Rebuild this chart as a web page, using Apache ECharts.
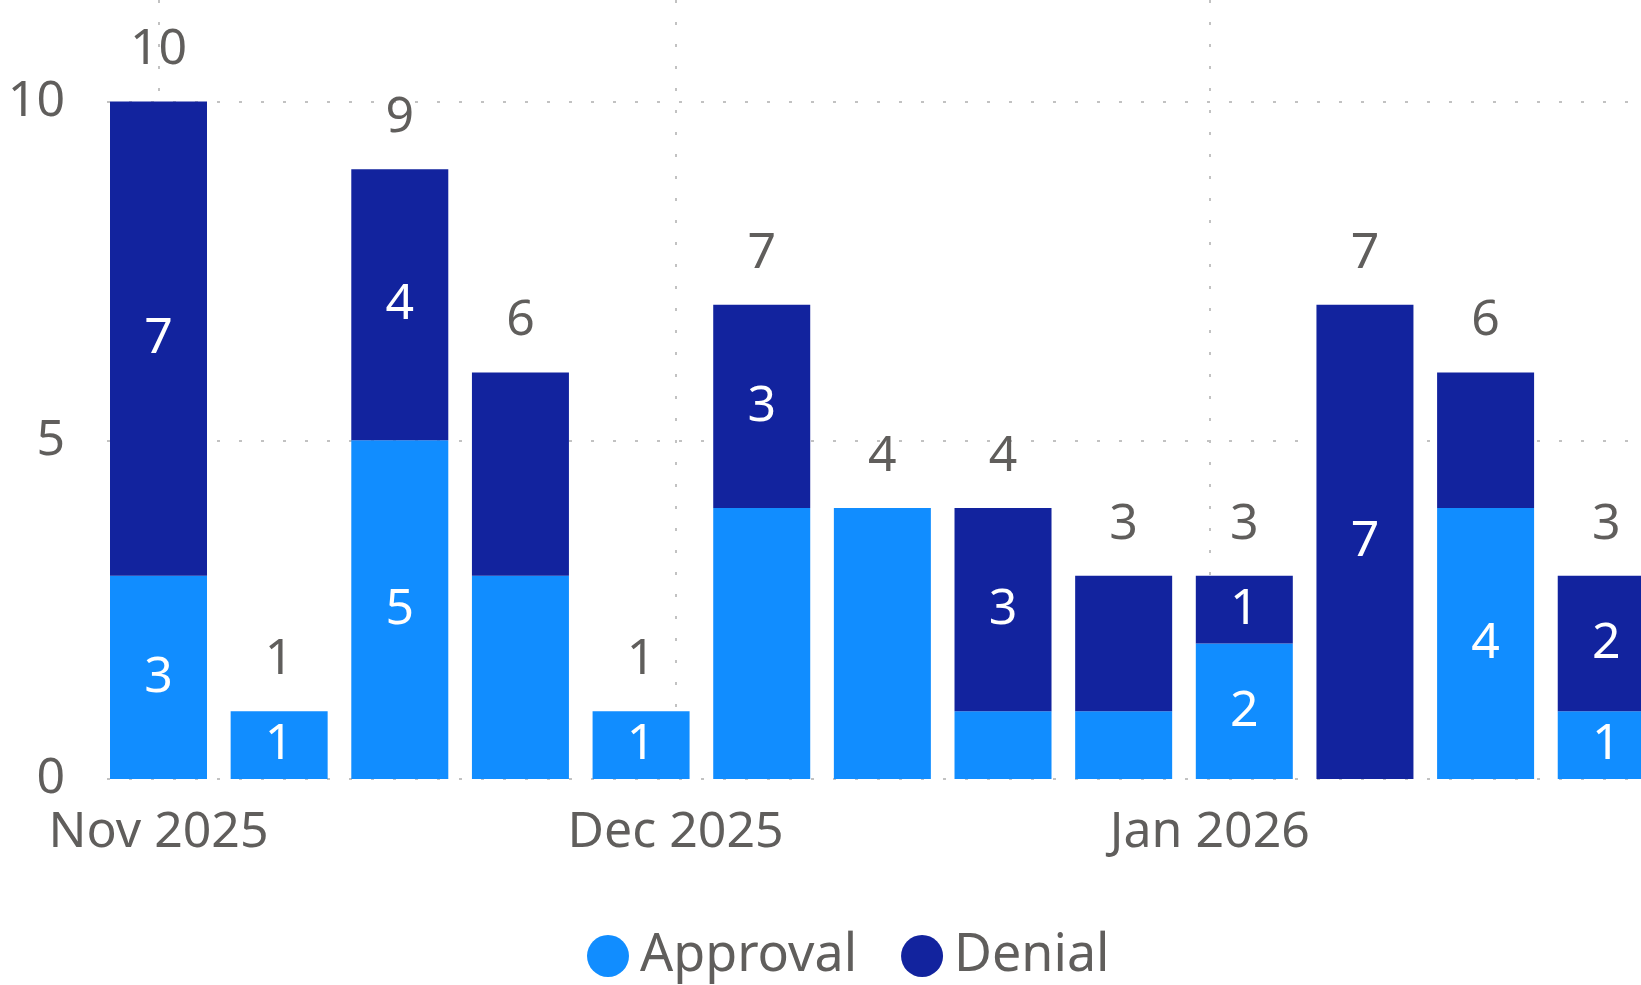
<!DOCTYPE html>
<html>
<head>
<meta charset="utf-8">
<script src="https://cdn.jsdelivr.net/npm/echarts@6/dist/echarts.min.js"></script>
<style>
  html, body { margin: 0; padding: 0; background: #fff; }
  #chart { width: 1641px; height: 985px; }
</style>
</head>
<body>
<div id="chart"></div>
<script>
// weekly buckets
const weeks = ['2025-11-01', '2025-11-08', '2025-11-15', '2025-11-22', '2025-11-29',
    '2025-12-06', '2025-12-13', '2025-12-20', '2025-12-27',
    '2026-01-03', '2026-01-10', '2026-01-17', '2026-01-24'];
const approval = [3, 1, 5, 3, 1, 4, 4, 1, 1, 2, 0, 4, 1];
const denial = [7, 0, 4, 3, 0, 3, 0, 3, 2, 1, 7, 2, 2];
// which inner labels the original shows (1 = shown)
const approvalLabelOn = [1, 1, 1, 0, 1, 0, 0, 0, 0, 1, 0, 1, 1];
const denialLabelOn = [1, 0, 1, 0, 0, 1, 0, 1, 0, 1, 1, 0, 1];
const totals = approval.map((v, i) => v + denial[i]);

const FONT = '"Segoe UI", "Noto Sans", sans-serif';
const GREY = '#605E5C';
const DAY = 86400000;
const BAR_W = 97;
const PLOT_W = 1534;
const PX_PER_DAY = 17.235;

// visible window: ~3 days before Nov 1, cut at the right edge.
// echarts widens a time axis holding bars by half a bar each side, so pull min/max in by that much.
const nov1 = +new Date(2025, 10, 1);
const span = PLOT_W / PX_PER_DAY * DAY;
const pad = span * (BAR_W / 2) / PLOT_W;
const start = nov1 - (51.5 / PX_PER_DAY) * DAY;
const xMin = start + pad;
const xMax = start + span - pad;

const chart = echarts.init(document.getElementById('chart'));

const dotted = { color: '#C2C2C2', width: 2, type: [3, 19] };

const option = {
    animation: false,
    textStyle: { fontFamily: FONT },
    grid: { left: 107, right: 0, top: -2, bottom: 206 },
    legend: {
        left: 582,
        top: 925,
        icon: 'circle',
        itemWidth: 42,
        itemHeight: 42,
        itemGap: 44,
        textStyle: { fontSize: 52, color: GREY, fontFamily: FONT, padding: [0, 0, 0, 6] },
        data: ['Approval', 'Denial']
    },
    xAxis: {
        type: 'time',
        min: xMin,
        max: xMax,
        minInterval: 28 * DAY,
        axisLine: { show: false },
        axisTick: { show: false },
        splitLine: { show: true, showMinLine: false, showMaxLine: false, lineStyle: dotted },
        axisLabel: {
            fontSize: 50,
            color: GREY,
            margin: 29,
            formatter: v => echarts.time.format(v, '{MMM} {yyyy}', false)
        }
    },
    yAxis: {
        type: 'value',
        min: 0,
        max: 11.5,
        interval: 5,
        axisLine: { show: false },
        axisTick: { show: false },
        splitLine: { showMaxLine: false, lineStyle: dotted },
        axisLabel: {
            fontSize: 50,
            color: GREY,
            margin: 42,
            showMaxLabel: false,
            formatter: v => (v % 5 === 0 ? v : '')
        }
    },
    series: [
        {
            name: 'Approval',
            type: 'bar',
            stack: 'all',
            barWidth: BAR_W,
            itemStyle: { color: '#118DFF' },
            label: {
                position: 'inside',
                color: '#fff',
                fontSize: 50,
                formatter: p => p.value[1]
            },
            data: weeks.map((d, i) => ({ value: [d, approval[i]], label: { show: !!approvalLabelOn[i] } }))
        },
        {
            name: 'Denial',
            type: 'bar',
            stack: 'all',
            barWidth: BAR_W,
            itemStyle: { color: '#12239E' },
            label: {
                position: 'inside',
                color: '#fff',
                fontSize: 50,
                formatter: p => p.value[1]
            },
            data: weeks.map((d, i) => ({ value: [d, denial[i]], label: { show: !!denialLabelOn[i] } }))
        },
        {
            name: 'Total',
            type: 'scatter',
            symbolSize: 1,
            itemStyle: { color: 'rgba(0,0,0,0)', opacity: 1 },
            label: {
                show: true,
                position: 'top',
                distance: 26,
                color: GREY,
                fontSize: 50,
                formatter: p => p.value[1]
            },
            data: weeks.map((d, i) => [d, totals[i]])
        }
    ]
};

chart.setOption(option);
</script>
</body>
</html>
